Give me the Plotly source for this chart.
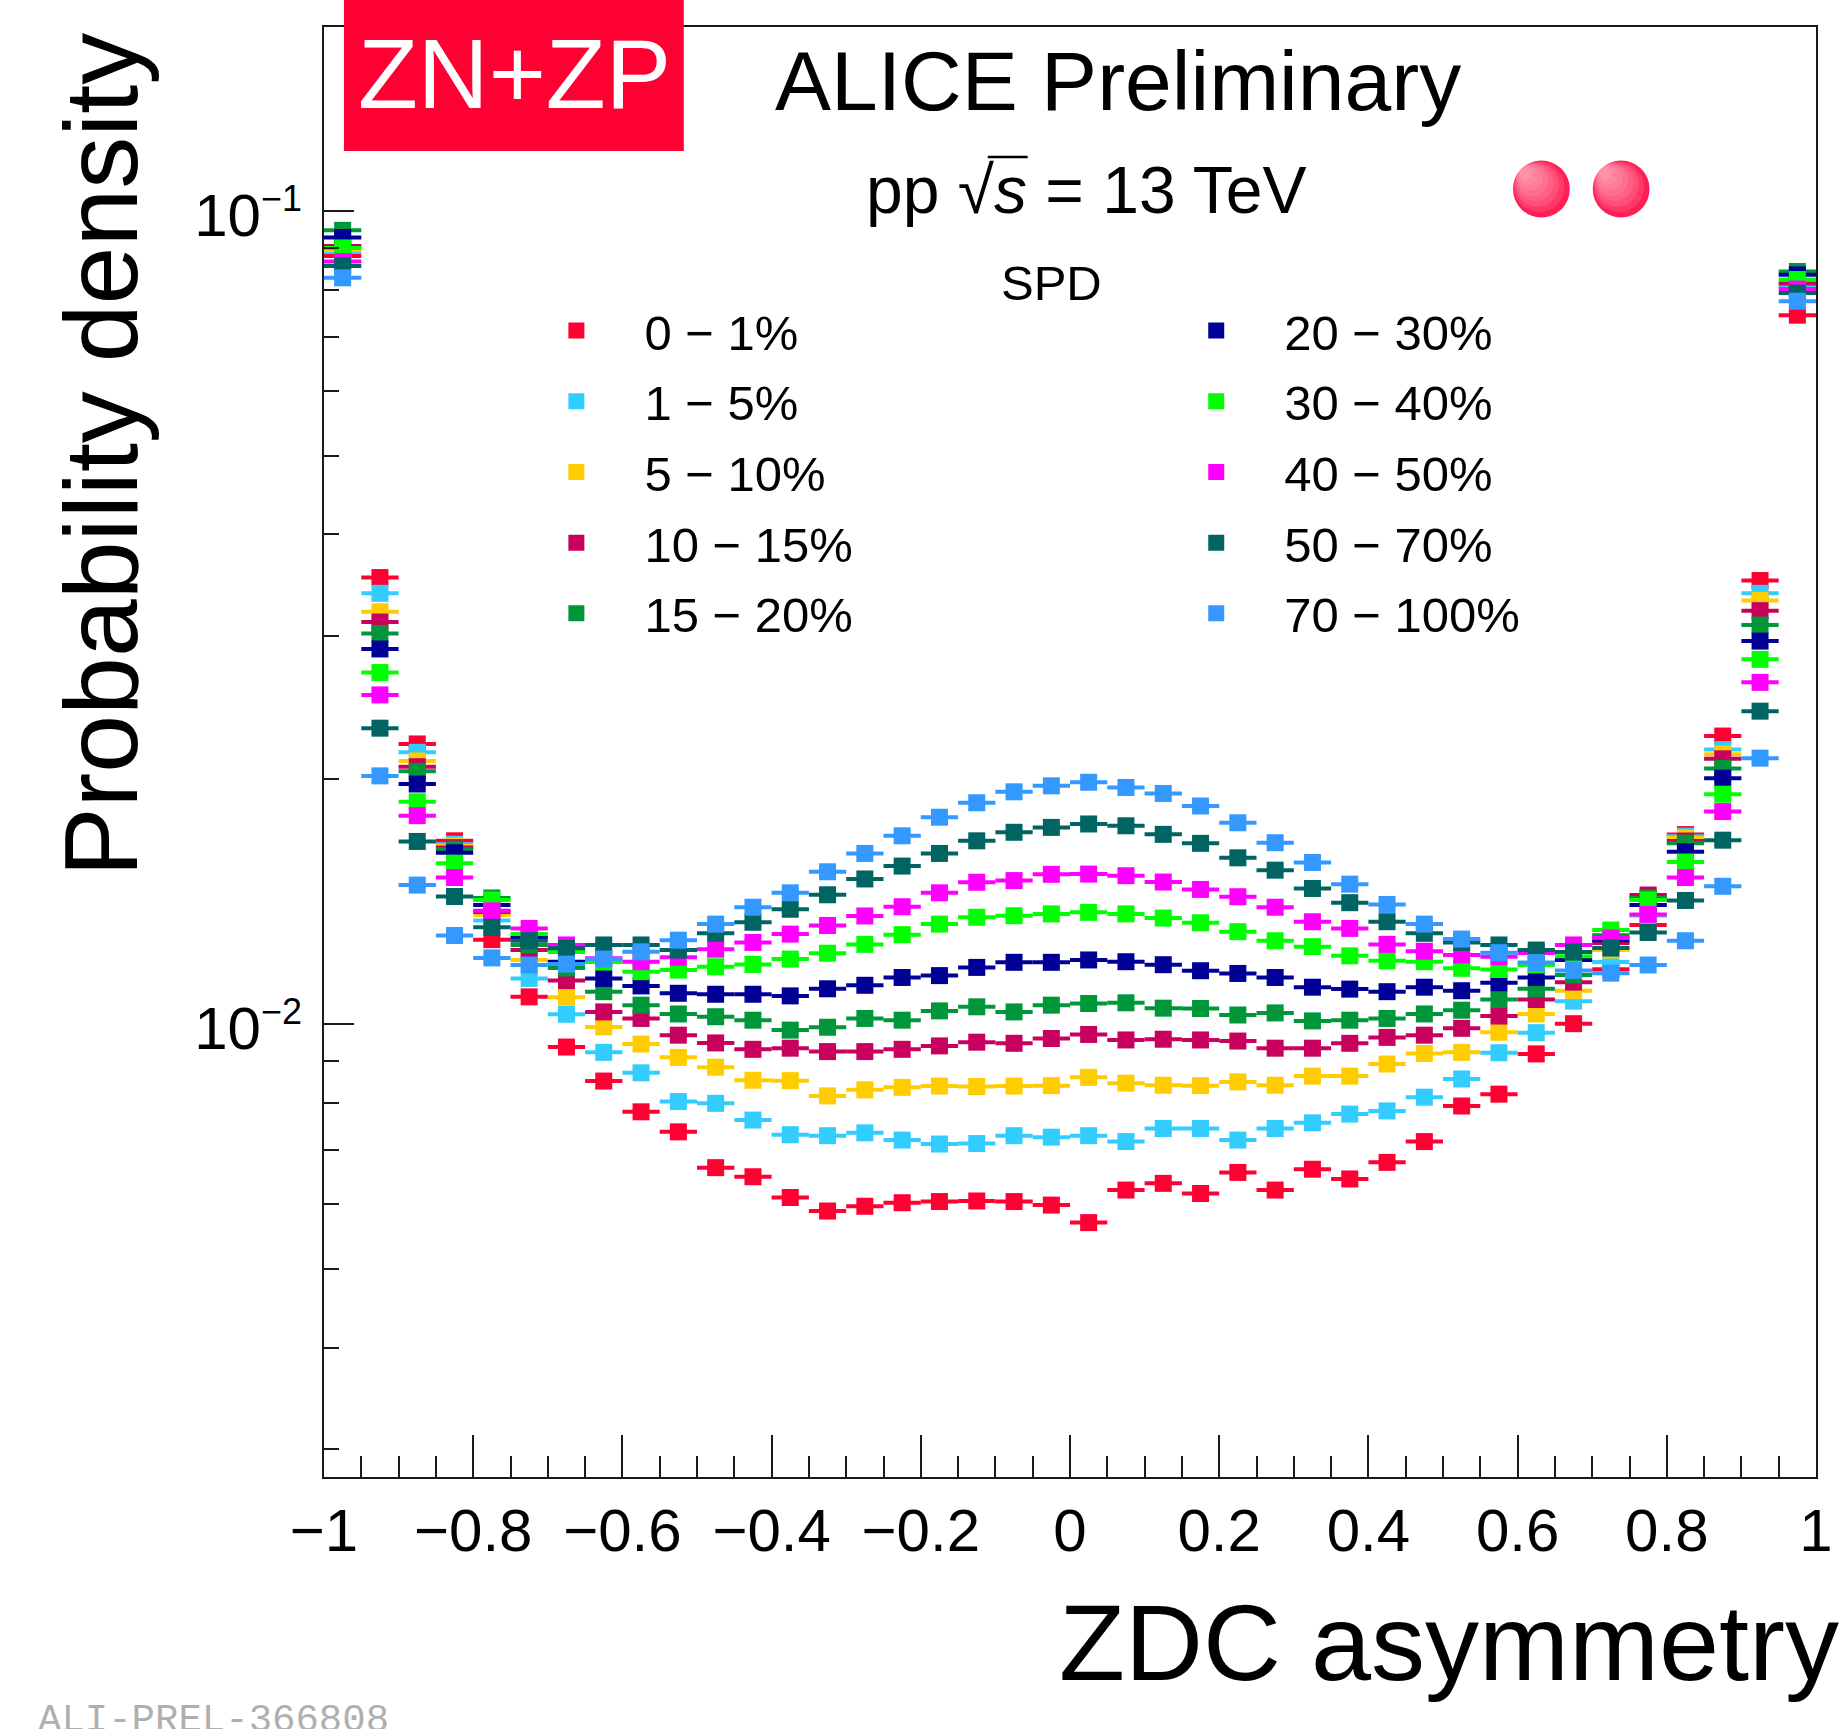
import plotly.graph_objects as go

# ZDC asymmetry bin centres (bin width 0.05)
bin_centres = [-0.975, -0.925, -0.875, -0.825, -0.775, -0.725, -0.675, -0.625, -0.575, -0.525,
               -0.475, -0.425, -0.375, -0.325, -0.275, -0.225, -0.175, -0.125, -0.075, -0.025,
               0.025, 0.075, 0.125, 0.175, 0.225, 0.275, 0.325, 0.375, 0.425, 0.475,
               0.525, 0.575, 0.625, 0.675, 0.725, 0.775, 0.825, 0.875, 0.925, 0.975]
half_bin_width = 0.025

# SPD multiplicity classes
class_labels = ["0 − 1%", "1 − 5%", "5 − 10%", "10 − 15%", "15 − 20%",
                "20 − 30%", "30 − 40%", "40 − 50%", "50 − 70%", "70 − 100%"]

spd_0_1 = [0.0880, 0.0354, 0.0221, 0.0168, 0.0127, 0.0108, 0.00937, 0.00851, 0.00780, 0.00737,
           0.00666, 0.00649, 0.00612, 0.00589, 0.00597, 0.00603, 0.00605, 0.00606, 0.00605, 0.00599,
           0.00570, 0.00625, 0.00637, 0.00619, 0.00657, 0.00625, 0.00663, 0.00645, 0.00676, 0.00717,
           0.00793, 0.00820, 0.00919, 0.01001, 0.01168, 0.01324, 0.0171, 0.0226, 0.0351, 0.0744]
spd_1_5 = [0.0890, 0.03385, 0.02158, 0.01664, 0.01341, 0.01138, 0.01028, 0.00923, 0.00871, 0.00803,
           0.00799, 0.00762, 0.00731, 0.00729, 0.00735, 0.00720, 0.00712, 0.00713, 0.00729, 0.00726,
           0.00729, 0.00717, 0.00744, 0.00744, 0.00720, 0.00744, 0.00756, 0.00775, 0.00782, 0.00813,
           0.00856, 0.00922, 0.00976, 0.01067, 0.01192, 0.0136, 0.01702, 0.02175, 0.03385, 0.0810]
spd_5_10 = [0.0895, 0.03213, 0.02106, 0.01656, 0.01362, 0.01199, 0.01079, 0.00992, 0.00945, 0.00910,
            0.00885, 0.00853, 0.00852, 0.00816, 0.00830, 0.00836, 0.00839, 0.00838, 0.00839, 0.00840,
            0.00860, 0.00846, 0.00841, 0.00840, 0.00849, 0.00841, 0.00863, 0.00863, 0.00893, 0.00920,
            0.00923, 0.00977, 0.01029, 0.01099, 0.01233, 0.01433, 0.01693, 0.02147, 0.03318, 0.0818]
spd_10_15 = [0.0905, 0.03121, 0.02072, 0.01648, 0.01373, 0.01233, 0.01131, 0.01035, 0.01016, 0.00969,
             0.00948, 0.00931, 0.00934, 0.00925, 0.00925, 0.00931, 0.00940, 0.00950, 0.00947, 0.00960,
             0.00971, 0.00956, 0.00958, 0.00956, 0.00953, 0.00934, 0.00934, 0.00947, 0.00963, 0.00969,
             0.00988, 0.01023, 0.01072, 0.01126, 0.01258, 0.01441, 0.01679, 0.02119, 0.03223, 0.0814]
spd_15_20 = [0.0946, 0.03021, 0.02045, 0.01640, 0.01429, 0.01251, 0.01172, 0.01096, 0.01055, 0.01029,
             0.01021, 0.01011, 0.00983, 0.00991, 0.01016, 0.01011, 0.01038, 0.01050, 0.01035, 0.01055,
             0.01060, 0.01062, 0.01046, 0.01045, 0.01026, 0.01032, 0.01009, 0.01011, 0.01016, 0.01029,
             0.01040, 0.01072, 0.01105, 0.01149, 0.01286, 0.01429, 0.01669, 0.02062, 0.03094, 0.0842]
spd_20_30 = [0.0927, 0.02892, 0.01973, 0.01624, 0.01401, 0.01276, 0.01193, 0.01138, 0.01114, 0.01091,
             0.01088, 0.01088, 0.01083, 0.01105, 0.01116, 0.01141, 0.01147, 0.01174, 0.01191, 0.01191,
             0.01199, 0.01193, 0.01183, 0.01163, 0.01154, 0.01141, 0.01110, 0.01104, 0.01096, 0.01110,
             0.01099, 0.01124, 0.01141, 0.01199, 0.01268, 0.01401, 0.01629, 0.02006, 0.02957, 0.0834]
spd_30_40 = [0.0900, 0.02705, 0.01876, 0.01577, 0.01421, 0.0129, 0.01226, 0.01192, 0.01160, 0.01165,
             0.01176, 0.01184, 0.01202, 0.01222, 0.01253, 0.01288, 0.01327, 0.01353, 0.01359, 0.01366,
             0.01372, 0.01366, 0.01350, 0.01332, 0.01299, 0.01266, 0.01245, 0.01213, 0.01196, 0.01193,
             0.01171, 0.01167, 0.01182, 0.01212, 0.01305, 0.01421, 0.01582, 0.01917, 0.02808, 0.0823]
spd_40_50 = [0.0866, 0.02539, 0.01804, 0.01514, 0.01378, 0.01311, 0.01251, 0.01205, 0.01193, 0.01208,
             0.01236, 0.01260, 0.01290, 0.01322, 0.01358, 0.01394, 0.01450, 0.01494, 0.01501, 0.01528,
             0.01529, 0.01522, 0.01495, 0.01464, 0.01434, 0.01392, 0.01336, 0.01311, 0.01253, 0.01229,
             0.01216, 0.01210, 0.01223, 0.01251, 0.01276, 0.01364, 0.01514, 0.01825, 0.02631, 0.0801]
spd_50_70 = [0.0855, 0.02311, 0.01677, 0.01435, 0.01315, 0.01266, 0.01239, 0.01251, 0.01251, 0.01233,
             0.01293, 0.01334, 0.01384, 0.01442, 0.01508, 0.01564, 0.01621, 0.01680, 0.01721, 0.01745,
             0.01762, 0.01753, 0.01711, 0.01668, 0.01601, 0.01546, 0.01468, 0.01410, 0.01336, 0.01293,
             0.01260, 0.01251, 0.01233, 0.01226, 0.01240, 0.01296, 0.01419, 0.01683, 0.02425, 0.0792]
spd_70_100 = [0.0827, 0.02019, 0.01482, 0.01285, 0.01206, 0.01182, 0.01185, 0.01202, 0.01227, 0.01268,
              0.01327, 0.01392, 0.01450, 0.01539, 0.01621, 0.01704, 0.01796, 0.01871, 0.01930, 0.01963,
              0.01983, 0.01954, 0.01921, 0.01854, 0.01768, 0.01671, 0.01580, 0.01486, 0.01403, 0.01327,
              0.01272, 0.01224, 0.01190, 0.01164, 0.01155, 0.01182, 0.01266, 0.01477, 0.02123, 0.0774]

class_values = [spd_0_1, spd_1_5, spd_5_10, spd_10_15, spd_15_20,
                spd_20_30, spd_30_40, spd_40_50, spd_50_70, spd_70_100]
class_colors = ["#FF0033", "#33CCFF", "#FFCC00", "#C8005E", "#00973A",
                "#000096", "#00FF00", "#FF00FF", "#006462", "#3399FF"]

# y-axis decades and their labels
y_tick_values = [0.01, 0.1]
y_tick_labels = ["10<sup><span style='font-size:36px'>−2</span></sup>",
                 "10<sup><span style='font-size:36px'>−1</span></sup>"]

# canvas and frame geometry (pixels)
FIG_W, FIG_H = 1845, 1729
L, R, T, B = 324, 1821, 27, 1477
W, H = R - L, B - T


def px(x):
    return (x - L) / W


def py(y):
    return (B - y) / H


FONT = "Liberation Sans"

fig = go.Figure()

for i, (label, vals, col) in enumerate(zip(class_labels, class_values, class_colors)):
    fig.add_trace(go.Scatter(
        x=bin_centres, y=vals, mode="markers", name=label,
        marker=dict(symbol="square", size=17, color=col, line=dict(width=0)),
        error_x=dict(type="constant", value=half_bin_width, color=col, thickness=4, width=0),
        legend="legend" if i < 5 else "legend2",
        legendgroup=label,
        hoverinfo="skip",
    ))

axis_common = dict(
    showline=True, mirror=True, linecolor="#1a1a1a", linewidth=2,
    showgrid=False, zeroline=False,
    ticks="inside", tickcolor="#1a1a1a", tickwidth=2,
    tickfont=dict(family=FONT, size=60, color="black"),
)

fig.update_xaxes(
    range=[-1, 1], tick0=-1, dtick=0.2, ticklen=42,
    minor=dict(dtick=0.05, tick0=-1, ticklen=21, ticks="inside", tickcolor="#1a1a1a", tickwidth=2),
    ticklabelstandoff=0,
    **axis_common,
)
fig.update_yaxes(
    type="log", range=[-2.5569, -0.7741],
    tickmode="array", tickvals=y_tick_values, ticktext=y_tick_labels, ticklen=30,
    minor=dict(dtick="D1", ticklen=15, ticks="inside", tickcolor="#1a1a1a", tickwidth=2),
    ticklabelstandoff=8, ticklabelshift=4,
    **axis_common,
)

legend_common = dict(
    font=dict(family=FONT, size=49, color="black"),
    bgcolor="rgba(0,0,0,0)", borderwidth=0,
    itemwidth=126, tracegroupgap=4, orientation="v",
    xanchor="left", yanchor="top",
)

annotations = [
    dict(text="ALICE Preliminary", x=px(775), y=py(80.5), xanchor="left", yanchor="middle",
         font=dict(family=FONT, size=84, color="black")),
    dict(text="pp √<i>s</i> = 13 TeV", x=px(866), y=py(190.5), xanchor="left", yanchor="middle",
         font=dict(family=FONT, size=66, color="black")),
    dict(text="SPD", x=px(1054), y=py(283), xanchor="center", yanchor="middle",
         font=dict(family=FONT, size=49, color="black")),
    dict(text="Probability density", x=px(100), y=py(455), xanchor="center", yanchor="middle",
         textangle=-90, font=dict(family=FONT, size=104, color="black")),
    dict(text="ZDC asymmetry", x=px(1846), y=py(1643), xanchor="right", yanchor="middle",
         font=dict(family=FONT, size=108, color="black")),
    dict(text="ALI-PREL-366808", x=px(35), y=py(1721.5), xanchor="left", yanchor="middle",
         font=dict(family="Liberation Mono", size=39, color="#AFAFAF")),
    dict(text="ZN+ZP", x=px(515), y=py(74), xanchor="center", yanchor="middle",
         font=dict(family=FONT, size=98, color="white")),
]
for a in annotations:
    a.update(xref="paper", yref="paper", showarrow=False)

shapes = [
    # detector tag box
    dict(type="rect", xref="paper", yref="paper", x0=px(344), x1=px(685), y0=py(151), y1=py(0),
         fillcolor="#FF0033", line=dict(width=0), layer="above"),
    # overline of the square root
    dict(type="line", xref="paper", yref="paper", x0=px(990), x1=px(1030), y0=py(157), y1=py(157),
         line=dict(color="black", width=2.5), layer="above"),
]

# two proton discs, shaded from light top-left to deep bottom-right
for cx in (1545.5, 1625.5):
    cy, r = 189.0, 28.5
    shapes.append(dict(type="circle", xref="paper", yref="paper",
                       x0=px(cx - r), x1=px(cx + r), y0=py(cy + r), y1=py(cy - r),
                       fillcolor="#FF1E55", line=dict(width=0), layer="above"))
    for k in range(1, 8):
        rk = r * (1 - 0.11 * k)
        off = (r - rk) * 0.72
        ccx, ccy = cx - off, cy - off
        shapes.append(dict(type="circle", xref="paper", yref="paper",
                           x0=px(ccx - rk), x1=px(ccx + rk), y0=py(ccy + rk), y1=py(ccy - rk),
                           fillcolor="rgba(255,190,205,0.16)", line=dict(width=0), layer="above"))

fig.update_layout(
    width=FIG_W, height=FIG_H,
    margin=dict(l=L, r=FIG_W - R, t=T, b=FIG_H - B, pad=0),
    paper_bgcolor="white", plot_bgcolor="white",
    showlegend=True,
    legend=dict(x=px(509), y=py(292.2), **legend_common),
    legend2=dict(x=px(1151), y=py(292.2), **legend_common),
    annotations=annotations,
    shapes=shapes,
    hovermode=False,
)

fig.write_html("out.html")
